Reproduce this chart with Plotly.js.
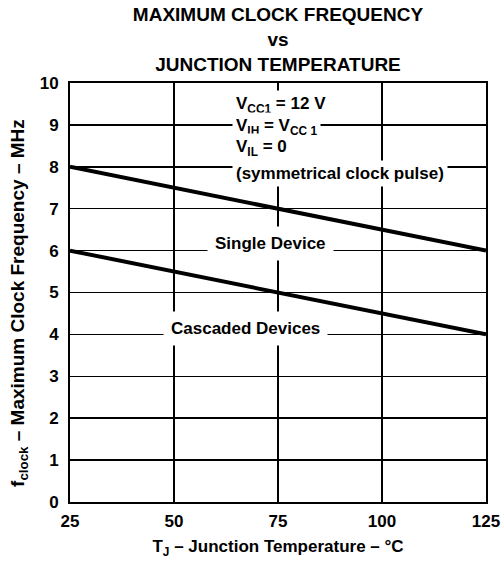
<!DOCTYPE html>
<html><head><meta charset="utf-8">
<script src="https://cdn.plot.ly/plotly-3.0.1.min.js"></script>
<style>body{margin:0;background:#fff}#c{width:501px;height:562px}</style>
</head><body><div id="c"></div>
<script>
const temps = [25, 125];
const singleDevice = [8, 6];
const cascadedDevices = [6, 4];
const xTicks = [25, 50, 75, 100, 125];
const yTicks = [0,1,2,3,4,5,6,7,8,9,10];
const F = 'Liberation Sans, Arial, sans-serif';

const traces = [
  {x: temps, y: singleDevice, mode: 'lines', line: {color: '#000', width: 4}, showlegend: false},
  {x: temps, y: cascadedDevices, mode: 'lines', line: {color: '#000', width: 4}, showlegend: false}
];

const noteFont = {family: F, size: 17, color: '#000', weight: 'bold'};
function note(x, y, text, anchor, pad) {
  return {x: x, y: y, xref: 'x', yref: 'y', text: text, showarrow: false,
    xanchor: anchor || 'left', yanchor: 'middle', font: noteFont, bgcolor: '#fff', borderpad: pad || 2, align: 'left'};
}

const layout = {
  width: 501, height: 562,
  margin: {l: 70, r: 15, t: 83, b: 60},
  paper_bgcolor: '#fff', plot_bgcolor: '#fff',
  font: {family: F, color: '#000'},
  title: {text: '<b>MAXIMUM CLOCK FREQUENCY<br>vs<br>JUNCTION TEMPERATURE</b>', font: {family: F, size: 19, color: '#000'},
    x: 0.5, xref: 'paper', y: 0.962, yanchor: 'top'},
  xaxis: {range: [25, 125], tickvals: xTicks, ticktext: xTicks.map(String), showgrid: true, gridcolor: '#000', gridwidth: 1.5,
    zeroline: false, showline: true, linecolor: '#000', linewidth: 2, mirror: true, ticks: '',
    tickfont: {family: F, size: 17, color: '#000', weight: 'bold'}, ticklabelstandoff: 3,
    title: {text: '<b>T<sub>J</sub> – Junction Temperature – °C</b>', font: {family: F, size: 17, color: '#000'}, standoff: 10}},
  yaxis: {range: [0, 10], tickvals: yTicks, ticktext: yTicks.map(String), showgrid: true, gridcolor: '#000', gridwidth: 1.5,
    zeroline: false, showline: true, linecolor: '#000', linewidth: 2, mirror: true, ticks: '',
    tickfont: {family: F, size: 17, color: '#000', weight: 'bold'}, ticklabelstandoff: 6,
    title: {text: '<b>f<sub>clock</sub> – Maximum Clock Frequency – MHz&nbsp;&nbsp;&nbsp;&nbsp;</b>', font: {family: F, size: 19, color: '#000'}, standoff: 10}},
  annotations: [
    note(64, 9.47, 'V<sub>CC1</sub> = 12 V', 'left', 3),
    note(64, 8.95, 'V<sub>IH</sub> = V<sub>CC 1</sub>', 'left', 3),
    note(64, 8.45, 'V<sub>IL</sub> = 0', 'left', 3),
    note(64, 7.85, '(symmetrical clock pulse)', 'left', 3),
    note(73.3, 6.18, 'Single Device', 'center', 7),
    note(67.3, 4.15, 'Cascaded Devices', 'center', 7)
  ]
};
Plotly.newPlot('c', traces, layout, {staticPlot: true, displayModeBar: false});
</script></body></html>
